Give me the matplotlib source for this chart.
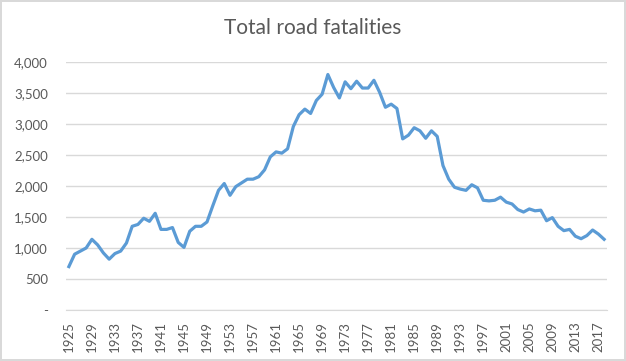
import numpy as np
import matplotlib
matplotlib.use("Agg")
import matplotlib.pyplot as plt
from matplotlib.ticker import FuncFormatter

# Values
years = list(range(1925, 2019))
fatalities = [
    700, 900, 950, 1000, 1140, 1050, 920, 820, 910, 950,
    1080, 1350, 1380, 1480, 1430, 1560, 1300, 1300, 1330, 1090,
    1010, 1270, 1350, 1350, 1420, 1680, 1930, 2040, 1850, 1990,
    2050, 2110, 2110, 2150, 2260, 2470, 2550, 2530, 2600, 2960,
    3150, 3240, 3170, 3380, 3480, 3798, 3590, 3420, 3680, 3570,
    3690, 3580, 3580, 3705, 3510, 3270, 3320, 3250, 2760, 2820,
    2940, 2890, 2770, 2890, 2800, 2330, 2110, 1980, 1950, 1930,
    2020, 1970, 1770, 1760, 1770, 1820, 1740, 1710, 1620, 1580,
    1630, 1600, 1610, 1440, 1490, 1350, 1280, 1300, 1190, 1150,
    1200, 1290, 1225, 1140,
]
tick_years = list(range(1925, 2019, 4))
y_ticks = [0, 500, 1000, 1500, 2000, 2500, 3000, 3500, 4000]
title = "Total road fatalities"

text_color = "#595959"
grid_color = "#D9D9D9"
line_color = "#5B9BD5"

plt.rcParams["font.family"] = ["Lato", "DejaVu Sans"]

fig = plt.figure(figsize=(6.26, 3.61), dpi=100)
fig.patch.set_edgecolor(grid_color)
fig.patch.set_linewidth(1.5)
ax = fig.add_axes([66 / 626, 1 - 310 / 361, (607 - 66) / 626, (310 - 62) / 361])

ax.plot(years, fatalities, color=line_color, linewidth=2.3, solid_joinstyle="round")

ax.set_xlim(1924.5, 2018.5)
ax.set_ylim(0, 4000)
ax.set_yticks(y_ticks)
ax.yaxis.set_major_formatter(FuncFormatter(lambda v, p: "-" if v == 0 else f"{int(v):,}"))
ax.set_xticks(tick_years)
ax.set_xticklabels([str(y) for y in tick_years], rotation=90)

ax.grid(axis="y", color=grid_color, linewidth=1)
ax.set_axisbelow(True)
for side in ["top", "right", "left"]:
    ax.spines[side].set_visible(False)
ax.spines["bottom"].set_color(grid_color)
ax.tick_params(axis="both", length=0, labelsize=9.5, labelcolor=text_color)
ax.tick_params(axis="x", pad=8)
ax.tick_params(axis="y", pad=13)

fig.text(0.5, 1 - 28 / 361, title, ha="center", va="center", fontsize=15, color=text_color)

fig.savefig("out.png", dpi=100, edgecolor=fig.get_edgecolor())
